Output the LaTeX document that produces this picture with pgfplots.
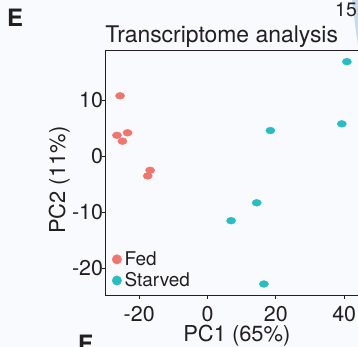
\documentclass[border=0pt]{standalone}
\usepackage{pgfplots}
\pgfplotsset{compat=1.18}
\usepackage{fontspec}
\setmainfont{TeX Gyre Heros}
\definecolor{txt}{RGB}{35,31,32}
\definecolor{bg}{RGB}{248,250,253}
\definecolor{fed}{RGB}{242,117,109}
\definecolor{starv}{RGB}{38,190,196}
\definecolor{arcblue}{RGB}{198,220,236}
\begin{document}
\begin{tikzpicture}
\useasboundingbox (0bp,0bp) rectangle (358bp,347bp);
\clip (0bp,0bp) rectangle (358bp,347bp);
\fill[bg] (0bp,0bp) rectangle (358bp,347bp);
\fill[arcblue] (352bp,347bp) .. controls (354bp,330bp) and (356bp,315bp) .. (358bp,302bp) -- (358bp,347bp) -- cycle;
\node[anchor=base west, inner sep=0pt, font=\fontsize{24}{24}\selectfont\bfseries, text=txt] at (7bp,320.3bp) {E};
\node[anchor=base west, inner sep=0pt, font=\fontsize{19.5}{19.5}\selectfont, text=txt] at (335bp,330.3bp) {15};
\node[anchor=base west, inner sep=0pt, font=\fontsize{24}{24}\selectfont\bfseries, text=txt] at (78bp,-5.3bp) {F};
\begin{axis}[
  at={(105.7bp,52bp)}, anchor=south west,
  scale only axis, width=262.4bp, height=244.3bp,
  xmin=-29.8, xmax=47, ymin=-24.77, ymax=18.86,
  axis line style={txt, line width=0.9bp},
  every tick/.style={txt, line width=0.9bp},
  tick align=outside, major tick length=3.5bp, tick pos=left,
  xtick={-20,0,20,40}, xticklabels={-20,0,20,40},
  ytick={-20,-10,0,10}, yticklabels={-20,-10,0,10},
  ticklabel style={font=\fontsize{21.5}{21.5}\selectfont, text=txt, inner sep=0pt},
  xticklabel style={anchor=base, yshift=-22.7bp},
  yticklabel style={anchor=east, xshift=1bp},
  title={Transcriptome analysis},
  title style={at={(axis description cs:0.442,1.008)}, anchor=base, font=\fontsize{23}{23}\selectfont, text=txt, inner sep=0pt},
  xlabel={PC1 (65\%)},
  xlabel style={at={(axis description cs:0.5,-0.1912)}, anchor=base, font=\fontsize{22}{22}\selectfont, text=txt, inner sep=0pt},
  ylabel={PC2 (11\%)},
  ylabel style={at={(axis description cs:-0.1551,0.47)}, anchor=base, font=\fontsize{22}{22}\selectfont, text=txt, inner sep=0pt},
  legend style={at={(axis description cs:0.024,0.178)}, anchor=north west, draw=none, fill=none, inner sep=0pt, row sep=5.7bp, column sep=3bp, font=\fontsize{19}{19}\selectfont, text=txt, nodes={inner sep=0pt}},
  legend cell align=left,
  legend image code/.code={\draw[#1, mark size=4.7bp, mark options={draw=none}] plot coordinates {(0bp,0bp)};},
]
\addplot[only marks, mark=*, color=fed, mark size=3.4bp, mark options={xscale=1.35, draw=none}] coordinates {
  (-25.6,10.8) (-26.5,3.75) (-23.4,4.2) (-24.9,2.7) (-16.8,-2.5) (-17.5,-3.5)
};
\addlegendentry{Fed}
\addplot[only marks, mark=*, color=starv, mark size=3.4bp, mark options={xscale=1.35, draw=none}] coordinates {
  (40.8,16.9) (18.4,4.6) (39.3,5.8) (14.4,-8.3) (6.9,-11.5) (16.5,-22.8)
};
\addlegendentry{Starved}
\end{axis}
\end{tikzpicture}
\end{document}
